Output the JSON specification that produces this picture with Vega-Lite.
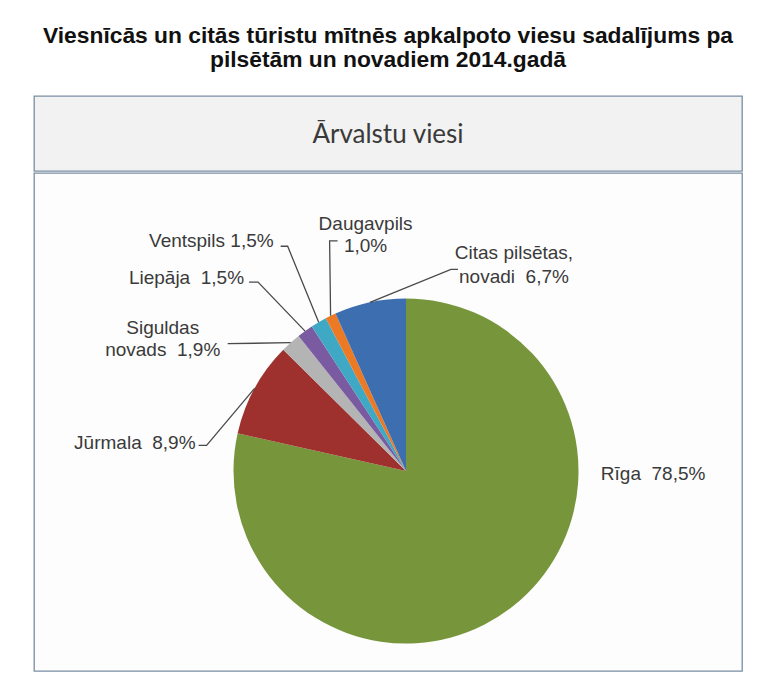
{
  "$schema": "https://vega.github.io/schema/vega-lite/v6.json",
  "background": "#ffffff",
  "padding": {"left": 33, "top": 24, "right": 0, "bottom": 0},
  "title": {
    "text": ["Viesnīcās un citās tūristu mītnēs apkalpoto viesu sadalījums pa", "pilsētām un novadiem 2014.gadā"],
    "font": "Liberation Sans",
    "fontSize": 22.8,
    "fontWeight": "bold",
    "color": "#111111",
    "anchor": "middle",
    "lineHeight": 24,
    "offset": 24
  },
  "spacing": 0,
  "config": {
    "concat": {"spacing": 0},
    "text": {"font": "Liberation Sans", "fontSize": 19, "color": "#3a3a3a"}
  },
  "vconcat": [
    {
      "width": 708,
      "height": 75,
      "view": {"fill": "#f2f2f2", "stroke": "#7a8ea4", "strokeWidth": 1.3},
      "data": {"values": [{"t": "Ārvalstu viesi"}]},
      "mark": {"type": "text", "font": "Lato", "fontSize": 26, "color": "#3a3a3a", "baseline": "middle", "dy": 1},
      "encoding": {"text": {"field": "t", "type": "nominal"}}
    },
    {
      "width": 708,
      "height": 498,
      "view": {"fill": "#fdfdfd", "stroke": "#7a8ea4", "strokeWidth": 1.3},
      "data": {
        "values": [
          {"name": "Rīga", "v": 78.5, "o": 1, "label": "Rīga\u00a0 78,5%"},
          {"name": "Jūrmala", "v": 8.9, "o": 2, "label": "Jūrmala\u00a0 8,9%"},
          {"name": "Siguldas novads", "v": 1.9, "o": 3, "label": "Siguldas\nnovads\u00a0 1,9%"},
          {"name": "Liepāja", "v": 1.5, "o": 4, "label": "Liepāja\u00a0 1,5%"},
          {"name": "Ventspils", "v": 1.5, "o": 5, "label": "Ventspils 1,5%"},
          {"name": "Daugavpils", "v": 1.0, "o": 6, "label": "Daugavpils\n1,0%"},
          {"name": "Citas pilsētas, novadi", "v": 6.7, "o": 7, "label": "Citas pilsētas,\nnovadi\u00a0 6,7%"}
        ]
      },
      "transform": [
        {"stack": "v", "groupby": [], "sort": [{"field": "o", "order": "ascending"}], "offset": "normalize", "as": ["s0", "s1"]},
        {"calculate": "PI * (datum.s0 + datum.s1)", "as": "a"},
        {"calculate": "172.5 * sin(datum.a)", "as": "px"},
        {"calculate": "172.5 * cos(datum.a)", "as": "py"}
      ],
      "layer": [
        {
          "mark": {"type": "arc", "outerRadius": 172.5},
          "encoding": {
            "x": {"datum": 0, "type": "quantitative", "scale": {"domain": [-372, 336], "nice": false, "zero": false}, "axis": null},
            "y": {"datum": 0, "type": "quantitative", "scale": {"domain": [-200, 298], "nice": false, "zero": false}, "axis": null},
            "theta": {"field": "s0", "type": "quantitative", "stack": null, "scale": {"domain": [0, 1], "range": [0, 6.283185307179586]}},
            "theta2": {"field": "s1"},
            "color": {
              "field": "name", "type": "nominal", "legend": null,
              "scale": {
                "domain": ["Rīga", "Jūrmala", "Siguldas novads", "Liepāja", "Ventspils", "Daugavpils", "Citas pilsētas, novadi"],
                "range": ["#77963c", "#9e302e", "#b4b4b4", "#7a5aa0", "#3fa8c4", "#ec7a25", "#3d6eb0"]
              }
            }
          }
        },
        {
          "transform": [{"filter": "datum.name !== 'Rīga'"}],
          "mark": {"type": "point", "filled": false, "size": 4, "stroke": "#4a4a4a", "strokeWidth": 1.3, "opacity": 1},
          "encoding": {
            "x": {"field": "px", "type": "quantitative"},
            "y": {"field": "py", "type": "quantitative"},
            "shape": {
              "field": "name", "type": "nominal", "legend": null,
              "scale": {
                "domain": ["Jūrmala", "Siguldas novads", "Liepāja", "Ventspils", "Daugavpils", "Citas pilsētas, novadi"],
                "range": ["M0,0L-48,57L-56,57", "M0,0L-63,1", "M0,0L-47,-49L-56,-49", "M0,0L-31,-76L-38,-76", "M0,0L-1,-75L7,-75", "M0,0L81,-33L88,-33"]
              }
            }
          }
        },
        {
          "transform": [{"filter": "datum.name === 'Rīga'"}],
          "mark": {"type": "text", "align": "left", "baseline": "middle", "dx": 87, "dy": -132},
          "encoding": {"x": {"field": "px", "type": "quantitative"}, "y": {"field": "py", "type": "quantitative"}, "text": {"field": "label"}}
        },
        {
          "transform": [{"filter": "datum.name === 'Jūrmala'"}],
          "mark": {"type": "text", "align": "right", "baseline": "middle", "dx": -59, "dy": 55},
          "encoding": {"x": {"field": "px", "type": "quantitative"}, "y": {"field": "py", "type": "quantitative"}, "text": {"field": "label"}}
        },
        {
          "transform": [{"filter": "datum.name === 'Siguldas novads'"}],
          "mark": {"type": "text", "align": "center", "baseline": "middle", "lineBreak": "\n", "lineHeight": 22, "dx": -128, "dy": -15},
          "encoding": {"x": {"field": "px", "type": "quantitative"}, "y": {"field": "py", "type": "quantitative"}, "text": {"field": "label"}}
        },
        {
          "transform": [{"filter": "datum.name === 'Liepāja'"}],
          "mark": {"type": "text", "align": "right", "baseline": "middle", "dx": -61, "dy": -53},
          "encoding": {"x": {"field": "px", "type": "quantitative"}, "y": {"field": "py", "type": "quantitative"}, "text": {"field": "label"}}
        },
        {
          "transform": [{"filter": "datum.name === 'Ventspils'"}],
          "mark": {"type": "text", "align": "right", "baseline": "middle", "dx": -45, "dy": -81},
          "encoding": {"x": {"field": "px", "type": "quantitative"}, "y": {"field": "py", "type": "quantitative"}, "text": {"field": "label"}}
        },
        {
          "transform": [{"filter": "datum.name === 'Daugavpils'"}],
          "mark": {"type": "text", "align": "center", "baseline": "middle", "lineBreak": "\n", "lineHeight": 22, "dx": 35, "dy": -92},
          "encoding": {"x": {"field": "px", "type": "quantitative"}, "y": {"field": "py", "type": "quantitative"}, "text": {"field": "label"}}
        },
        {
          "transform": [{"filter": "datum.name === 'Citas pilsētas, novadi'"}],
          "mark": {"type": "text", "align": "center", "baseline": "middle", "lineBreak": "\n", "lineHeight": 24, "dx": 144, "dy": -49},
          "encoding": {"x": {"field": "px", "type": "quantitative"}, "y": {"field": "py", "type": "quantitative"}, "text": {"field": "label"}}
        }
      ]
    }
  ]
}
